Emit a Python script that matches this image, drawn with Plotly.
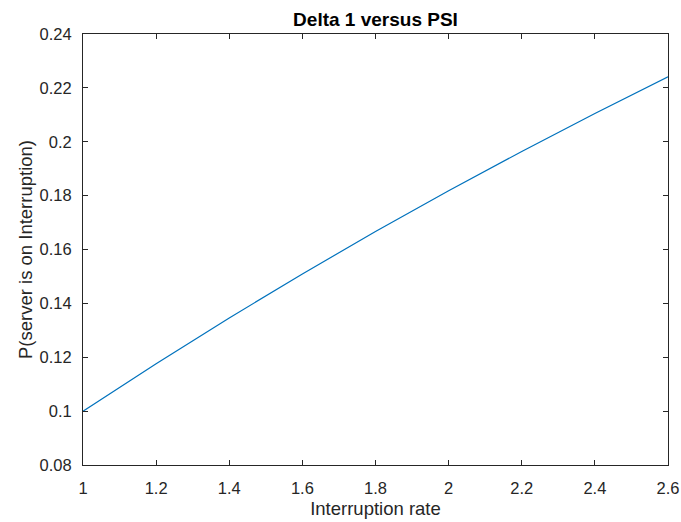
import plotly.graph_objects as go

x_vals = [1.0, 1.2, 1.4, 1.6, 1.8, 2.0, 2.2, 2.4, 2.6]
y_vals = [0.100, 0.1176, 0.1346, 0.1509, 0.1667, 0.1818, 0.1964, 0.2105, 0.2241]
x_ticks = [1, 1.2, 1.4, 1.6, 1.8, 2, 2.2, 2.4, 2.6]
x_ticktext = ["1", "1.2", "1.4", "1.6", "1.8", "2", "2.2", "2.4", "2.6"]
y_ticks = [0.08, 0.1, 0.12, 0.14, 0.16, 0.18, 0.2, 0.22, 0.24]
y_ticktext = ["0.08", "0.1", "0.12", "0.14", "0.16", "0.18", "0.2", "0.22", "0.24"]

FONT = "Liberation Sans, Arial, Helvetica"

fig = go.Figure()
fig.add_trace(go.Scatter(x=x_vals, y=y_vals, mode="lines",
                         line=dict(color="#0072BD", width=1.2)))

axis_common = dict(showgrid=False, zeroline=False, showline=True, mirror="ticks",
                   linecolor="#262626", linewidth=1, ticks="inside", ticklen=5,
                   tickcolor="#262626", automargin=False,
                   tickfont=dict(family=FONT, size=16.5, color="#262626"))

fig.update_layout(
    width=681, height=522,
    margin=dict(l=83, r=13, t=34, b=57, autoexpand=False),
    paper_bgcolor="white", plot_bgcolor="white",
    showlegend=False,
    title=dict(text="<b>Delta 1 versus PSI</b>", x=0.5, xref="paper", xanchor="center",
               y=1 - 19 / 522, yref="container", yanchor="middle",
               font=dict(family=FONT, size=19, color="black")),
    xaxis=dict(range=[1, 2.6], tickvals=x_ticks, ticktext=x_ticktext,
               ticklabelstandoff=8,
               title=dict(text="Interruption rate", standoff=6,
                          font=dict(family=FONT, size=18.5, color="#262626")),
               **axis_common),
    yaxis=dict(range=[0.08, 0.24], tickvals=y_ticks, ticktext=y_ticktext,
               ticklabelstandoff=7,
               title=dict(text="P(server is on Interruption)", standoff=2,
                          font=dict(family=FONT, size=18.5, color="#262626")),
               **axis_common),
)

fig.write_html("out.html")
